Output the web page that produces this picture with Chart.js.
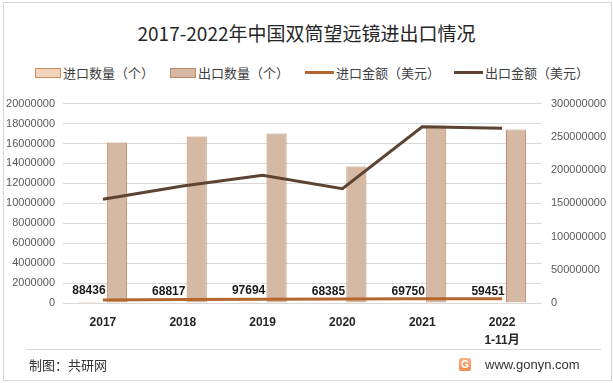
<!DOCTYPE html>
<html>
<head>
<meta charset="utf-8">
<script src="https://cdn.jsdelivr.net/npm/chart.js@4"></script>
<style>
  body { margin: 0; width: 613px; height: 383px; background: #fff; font-family: "Liberation Sans", Arial, "Noto Sans CJK SC", sans-serif; overflow: hidden; }
  #frame { position: absolute; left: 3px; top: 2px; width: 607px; height: 377px; border: 1px solid #d6d6d6; }
  #title { position: absolute; left: 0; top: 20px; width: 613px; text-align: center; font-family: "Noto Sans CJK SC", sans-serif; font-size: 19px; color: #262626; line-height: 26px; }
  .leg { position: absolute; top: 64px; font-family: "Noto Sans CJK SC", sans-serif; font-size: 13px; color: #404040; line-height: 17px; white-space: nowrap; }
  .sw { position: absolute; top: 4px; width: 24px; height: 8px; }
  .ln { position: absolute; top: 7px; width: 29px; height: 3px; }
  #chartBox { position: absolute; left: 0; top: 88px; width: 613px; height: 274px; }
  #divider { position: absolute; left: 27px; top: 349px; width: 574px; height: 1px; background: #d9d9d9; }
  #credit { position: absolute; left: 29px; top: 356px; font-family: "Noto Sans CJK SC", sans-serif; font-size: 13px; color: #333; line-height: 18px; }
  #site { position: absolute; left: 485px; top: 356px; font-size: 13px; color: #333; line-height: 18px; }
  #logo { position: absolute; left: 459px; top: 358px; width: 12px; height: 13px; border-radius: 2px; background: linear-gradient(#f8b48a, #f08a4b); color: #fff; font-size: 10px; font-weight: bold; text-align: center; line-height: 13px; }
</style>
</head>
<body>
<div id="frame"></div>
<div id="title">2017-2022年中国双筒望远镜进出口情况</div>

<div class="leg" style="left:35px;"><span class="sw" style="left:0;background:#f2d3bb;border:1px solid #cf8d5c;"></span><span style="margin-left:28px;">进口数量（个）</span></div>
<div class="leg" style="left:170px;"><span class="sw" style="left:0;background:#d5b9a4;border:1px solid #b98a6c;"></span><span style="margin-left:28px;">出口数量（个）</span></div>
<div class="leg" style="left:305px;"><span class="ln" style="left:0;background:#b3672f;"></span><span style="margin-left:31px;">进口金额（美元）</span></div>
<div class="leg" style="left:454px;"><span class="ln" style="left:0;background:#5d4331;"></span><span style="margin-left:31px;">出口金额（美元）</span></div>

<div id="chartBox"><canvas id="mainChart" width="613" height="274"></canvas></div>

<div id="divider"></div>
<div id="credit">制图：共研网</div>
<div id="logo">G</div>
<div id="site">www.gonyn.com</div>

<script>
// Chart data
const years = ['2017', '2018', '2019', '2020', '2021', ['2022', '1-11月']];
const importQty = [88436, 68817, 97694, 68385, 69750, 59451];
const exportQty = [16100000, 16700000, 17000000, 13700000, 17800000, 17400000];
const importAmt = [4600000, 5200000, 5800000, 6000000, 6300000, 6400000];
const exportAmt = [156000000, 176000000, 192000000, 172000000, 265000000, 263000000];
const leftTicks = [0, 2000000, 4000000, 6000000, 8000000, 10000000, 12000000, 14000000, 16000000, 18000000, 20000000];
const rightTicks = [0, 50000000, 100000000, 150000000, 200000000, 250000000, 300000000];

// Value labels above the import bars
const importLabels = {
    id: 'importLabels',
    afterDatasetsDraw(chart) {
        const ctx = chart.ctx;
        const meta = chart.getDatasetMeta(0);
        ctx.save();
        ctx.font = 'bold 12px "Liberation Sans", Arial, sans-serif';
        ctx.fillStyle = '#1a1a1a';
        ctx.textAlign = 'center';
        ctx.textBaseline = 'bottom';
        meta.data.forEach((bar, i) => {
            ctx.fillText(importQty[i], bar.x, bar.y - 5);
        });
        ctx.restore();
    }
};

new Chart(document.getElementById('mainChart'), {
    type: 'bar',
    data: {
        labels: years,
        datasets: [
            {
                label: '进口数量（个）',
                data: importQty,
                backgroundColor: '#f2d3bb',
                borderColor: '#d08b57',
                borderWidth: 1,
                yAxisID: 'y',
                order: 2
            },
            {
                label: '出口数量（个）',
                data: exportQty,
                backgroundColor: '#d5b9a4',
                borderColor: '#bf8b69',
                borderWidth: 1,
                yAxisID: 'y',
                order: 3
            },
            {
                type: 'line',
                label: '进口金额（美元）',
                data: importAmt,
                borderColor: '#b3672f',
                borderWidth: 3,
                pointRadius: 0,
                tension: 0,
                yAxisID: 'y1',
                order: 1
            },
            {
                type: 'line',
                label: '出口金额（美元）',
                data: exportAmt,
                borderColor: '#5d4331',
                borderWidth: 3,
                pointRadius: 0,
                tension: 0,
                yAxisID: 'y1',
                order: 0
            }
        ]
    },
    options: {
        responsive: false,
        animation: false,
        categoryPercentage: 0.7,
        barPercentage: 0.72,
        layout: { padding: { top: 13, bottom: 1, left: 0, right: 0 } },
        plugins: {
            legend: { display: false },
            title: { display: false },
            tooltip: { enabled: false }
        },
        scales: {
            x: {
                grid: { display: false, drawTicks: false },
                border: { display: false },
                ticks: {
                    padding: 11,
                    color: '#262626',
                    font: { size: 12, weight: 'bold', family: '"Liberation Sans", Arial, "Noto Sans CJK SC", sans-serif', lineHeight: 1.5 }
                }
            },
            y: {
                position: 'left',
                min: 0,
                max: 20000000,
                afterBuildTicks: axis => { axis.ticks = leftTicks.map(v => ({ value: v })); },
                afterFit: axis => { axis.width = 63; },
                grid: { color: '#d9d9d9', drawTicks: false },
                border: { display: false },
                ticks: {
                    padding: 8,
                    color: '#595959',
                    font: { size: 11, family: '"Liberation Sans", Arial, sans-serif' },
                    callback: v => String(v)
                }
            },
            y1: {
                position: 'right',
                min: 0,
                max: 300000000,
                afterBuildTicks: axis => { axis.ticks = rightTicks.map(v => ({ value: v })); },
                afterFit: axis => { axis.width = 71; },
                grid: { display: false, drawTicks: false },
                border: { display: false },
                ticks: {
                    padding: 9,
                    color: '#595959',
                    font: { size: 11, family: '"Liberation Sans", Arial, sans-serif' },
                    callback: v => String(v)
                }
            }
        }
    },
    plugins: [importLabels]
});
</script>
</body>
</html>
